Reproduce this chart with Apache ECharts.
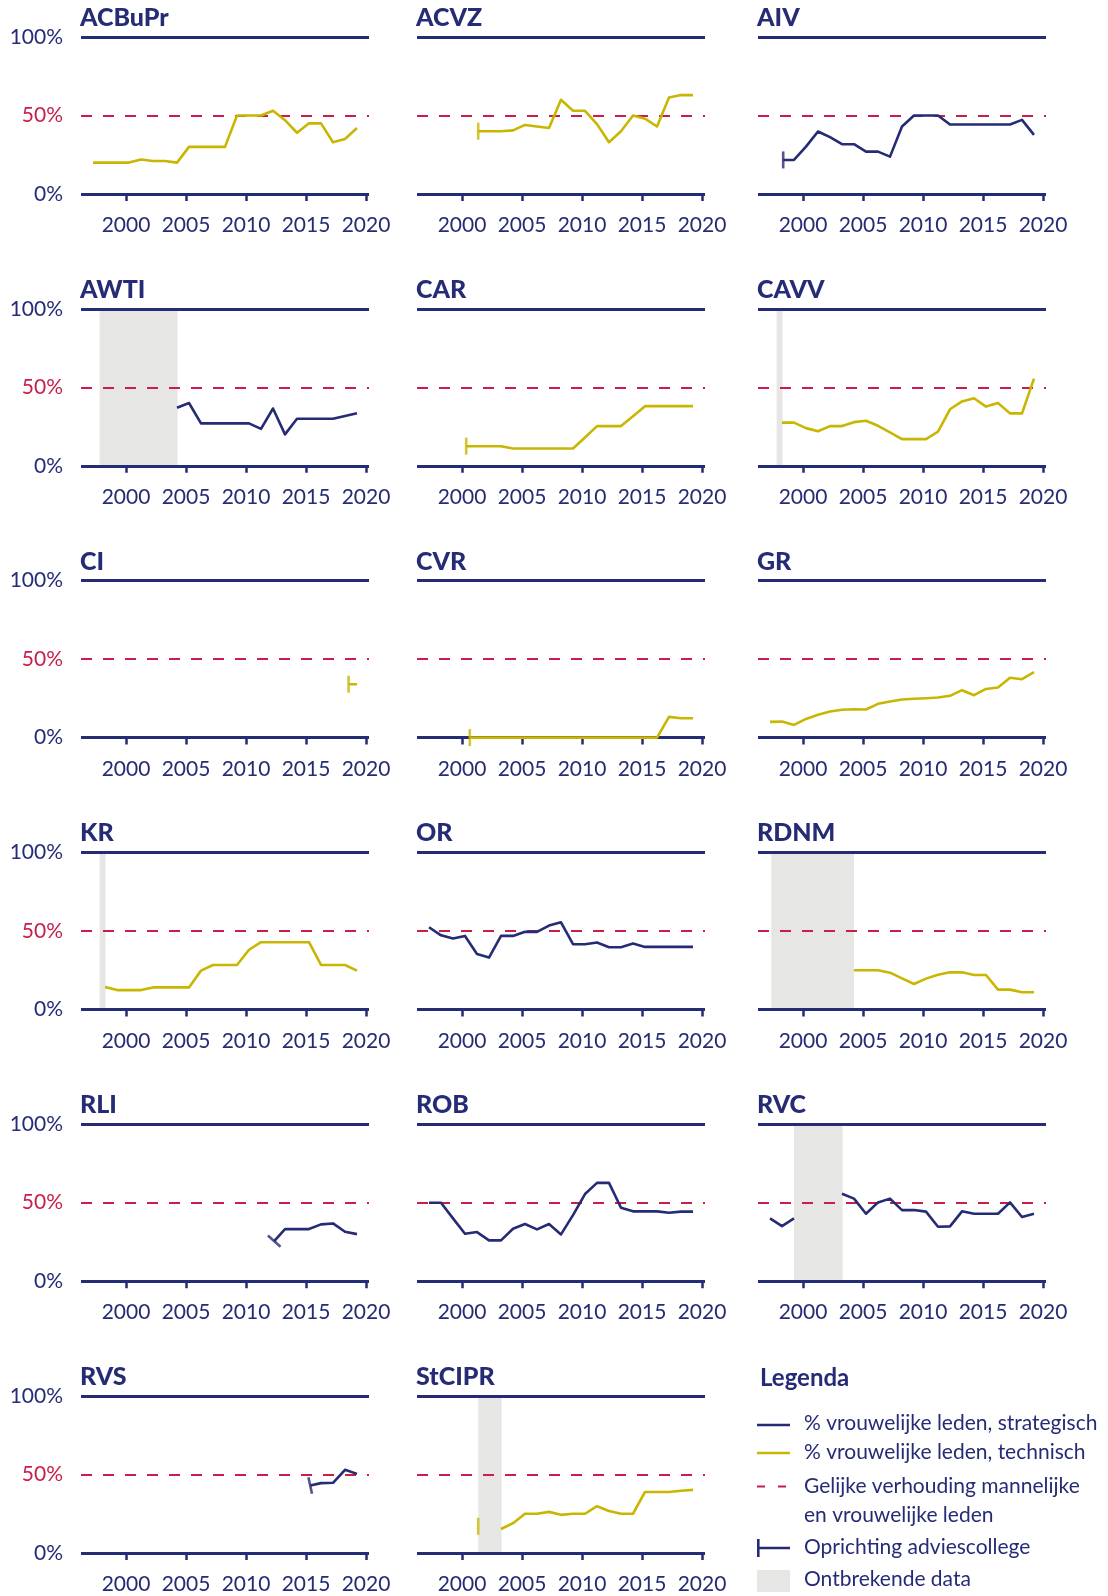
<!DOCTYPE html>
<html>
<head>
<meta charset="utf-8">
<script src="https://cdn.jsdelivr.net/npm/echarts@6/dist/echarts.min.js"></script>
<style>
  html, body { margin: 0; padding: 0; background: #fff; }
  #chart { width: 1108px; height: 1596px; }
</style>
</head>
<body>
<div id="chart"></div>
<script>
// jaartallen (1997 t/m 2019)
const years = [1997, 1998, 1999, 2000, 2001, 2002, 2003, 2004, 2005, 2006, 2007, 2008,
  2009, 2010, 2011, 2012, 2013, 2014, 2015, 2016, 2017, 2018, 2019];
const tickYears = [2000, 2005, 2010, 2015, 2020];
const pctTicks = [0, 50, 100];

// % vrouwelijke leden per adviescollege
const acbuprTech = [20, 20, 20, 20, 22, 21, 21, 20, 30, 30, 30, 30, 50, 50, 50, 53, 47, 39, 45, 45, 33, 35, 42];
const acvzTech = [null, null, null, null, null, 40, 40, 40.5, 44, 43, 42, 60, 53, 53, 44.5, 33, 40, 50, 48, 43, 61.5, 63, 63];
const aivStrat = [null, null, 21.7, 30.2, 39.8, 36.2, 31.7, 31.7, 27, 27, 23.8, 43, 50, 50, 50, 44.3, 44.3, 44.3, 44.3, 44.3, 44.3, 47.2, 37.7];
const awtiStrat = [null, null, null, null, null, null, null, 37, 40, 27, 27, 27, 27, 27, 23.5, 36.5, 20, 30, 30, 30, 30, 31.7, 33.5];
const carTech = [null, null, null, null, 12.5, 12.5, 12.5, 11, 11, 11, 11, 11, 11, 18, 25.3, 25.3, 25.3, 31.6, 38, 38, 38, 38, 38];
const cavvTech = [null, 27.5, 27.5, 24, 22, 25.3, 25.3, 27.8, 28.7, 25.5, 21.3, 17, 17, 17, 21.7, 36, 41, 43, 37.7, 40, 33.4, 33.4, 55.5];
const ciTech = [null, null, null, null, null, null, null, null, null, null, null, null, null, null, null, null, null, null, null, null, null, null, 34];
const cvrTech = [null, null, null, null, 0, 0, 0, 0, 0, 0, 0, 0, 0, 0, 0, 0, 0, 0, 0, 0, 13.2, 12.3, 12.3];
const grTech = [10, 10.2, 8.1, 11.9, 14.5, 16.6, 17.7, 18.1, 17.9, 21.5, 23, 24.3, 24.7, 25.1, 25.5, 26.6, 30.2, 27, 31, 31.9, 38.1, 37.2, 41.7];
const krTech = [null, 14.3, 12.3, 12.3, 12.3, 14, 14, 14, 14, 24.7, 28.3, 28.3, 28.3, 38, 42.8, 42.8, 42.8, 42.8, 42.8, 28.3, 28.3, 28.3, 24.7];
const orStrat = [52.3, 47.2, 45.1, 46.8, 35.3, 33, 46.8, 46.8, 49.4, 49.4, 53.4, 55.5, 41.5, 41.5, 42.6, 39.6, 39.6, 41.9, 39.8, 39.8, 39.8, 39.8, 39.8];
const rdnmTech = [null, null, null, null, null, null, null, 24.9, 24.9, 24.9, 23.4, 19.8, 16.2, 19.6, 22.1, 23.6, 23.6, 21.9, 21.9, 12.6, 12.6, 10.9, 10.9];
const rliStrat = [null, null, null, null, null, null, null, null, null, null, null, null, null, null, null, null, 33.2, 33.2, 33.2, 36.2, 36.8, 31.5, 30];
const robStrat = [50, 50, 40, 30.2, 31.3, 26, 26, 33.4, 36.4, 33, 36.4, 29.8, 42.1, 55.5, 62.6, 62.6, 46.8, 44.5, 44.5, 44.5, 43.6, 44.3, 44.3];
const rvcStrat = [40, 35.1, 40, null, null, null, 55.7, 52.6, 43, 50.2, 52.6, 45.3, 45.3, 44.3, 34.7, 34.9, 44.5, 43, 43, 43, 50.2, 40.9, 43];
const rvsStrat = [null, null, null, null, null, null, null, null, null, null, null, null, null, null, null, null, null, null, null, 44.5, 44.7, 53, 50.4];
const stciprTech = [null, null, null, null, null, null, 15.3, 19, 25, 25, 26.2, 24.3, 25, 25, 29.8, 26.8, 25, 25, 38.9, 38.9, 38.9, 39.6, 40.2];

// oprichting [jaar, %]
const acvzFounded = [2001.1, 40];
const aivFounded = [1998.1, 21.7];
const carFounded = [2000.1, 12.5];
const ciFounded = [2018.3, 34];
const cvrFounded = [2000.4, 0];
const rliFounded = [2012.1, 25.5];
const rvsFounded = [2015.1, 43];
const stciprFounded = [2001.1, 17];

// ontbrekende data [van, tot]
const awtiMissing = [1997.55, 2004.05];
const cavvMissing = [1997.55, 1998.05];
const krMissing = [1997.55, 1998.05];
const rdnmMissing = [1997.1, 2004.0];
const rvcMissing = [1999.0, 2003.05];
const stciprMissing = [2001.1, 2003.05];

const navy = '#252b74';
const yellow = '#c9b602';
const red = '#c81e4b';
const grey = '#e6e6e5';
const fontFamily = 'Lato';

const panels = [
  { name: 'ACBuPr', color: yellow, values: acbuprTech },
  { name: 'ACVZ', color: yellow, values: acvzTech, founded: acvzFounded },
  { name: 'AIV', color: navy, values: aivStrat, founded: aivFounded },
  { name: 'AWTI', color: navy, values: awtiStrat, missing: awtiMissing },
  { name: 'CAR', color: yellow, values: carTech, founded: carFounded },
  { name: 'CAVV', color: yellow, values: cavvTech, missing: cavvMissing },
  { name: 'CI', color: yellow, values: ciTech, founded: ciFounded },
  { name: 'CVR', color: yellow, values: cvrTech, founded: cvrFounded },
  { name: 'GR', color: yellow, values: grTech },
  { name: 'KR', color: yellow, values: krTech, missing: krMissing },
  { name: 'OR', color: navy, values: orStrat },
  { name: 'RDNM', color: yellow, values: rdnmTech, missing: rdnmMissing },
  { name: 'RLI', color: navy, values: rliStrat, founded: rliFounded },
  { name: 'ROB', color: navy, values: robStrat },
  { name: 'RVC', color: navy, values: rvcStrat, missing: rvcMissing },
  { name: 'RVS', color: navy, values: rvsStrat, founded: rvsFounded },
  { name: 'StCIPR', color: yellow, values: stciprTech, founded: stciprFounded, missing: stciprMissing }
];

// meetmoment ligt een kwart jaar na de jaargrens
const yearOffset = 0.25;
const colLeft = [81, 417, 758];
const plotW = 288, plotH = 157;
const xMin = 1996.25, xMax = 2020.25;
const rowTop = r => 37 + r * 271.8;

const grids = [], xAxes = [], yAxes = [], series = [], graphics = [];

panels.forEach((p, i) => {
  const r = Math.floor(i / 3), c = i % 3;
  const top = rowTop(r);
  grids.push({ left: colLeft[c], top: top, width: plotW, height: plotH });
  xAxes.push({
    gridIndex: i, type: 'value', min: xMin, max: xMax, offset: 7,
    axisLine: { show: false }, splitLine: { show: false },
    axisTick: { show: true, length: 7, customValues: tickYears, lineStyle: { color: navy, width: 2.5 } },
    axisLabel: {
      customValues: tickYears, margin: 14, color: navy, fontSize: 21, fontFamily: fontFamily,
      formatter: v => String(v)
    }
  });
  yAxes.push({
    gridIndex: i, type: 'value', min: 0, max: 100, interval: 50,
    axisLine: { show: false }, axisTick: { show: false }, splitLine: { show: false },
    axisLabel: {
      show: c === 0, customValues: pctTicks, margin: 18, fontSize: 21, fontFamily: fontFamily,
      formatter: v => v + '%',
      color: v => (Number(v) === 50 ? red : navy)
    }
  });

  const hidden = { data: [[xMin, 0], [xMax, 0]], symbol: 'none', lineStyle: { opacity: 0, width: 0 }, silent: true };
  if (p.missing) {
    series.push(Object.assign({ type: 'line', xAxisIndex: i, yAxisIndex: i, z: 0 }, hidden, {
      markArea: {
        z: 0, silent: true, itemStyle: { color: grey },
        data: [[{ xAxis: p.missing[0] + yearOffset, yAxis: 0 }, { xAxis: p.missing[1] + yearOffset, yAxis: 100 }]]
      }
    }));
  }
  series.push(Object.assign({ type: 'line', xAxisIndex: i, yAxisIndex: i, z: 1 }, hidden, {
    markLine: {
      z: 1, silent: true, symbol: 'none', label: { show: false },
      data: [
        { yAxis: 100, lineStyle: { color: navy, width: 3, type: 'solid' } },
        { yAxis: 0, lineStyle: { color: navy, width: 3, type: 'solid' } },
        { yAxis: 50, lineStyle: { color: red, width: 2, type: [11, 11] } }
      ]
    }
  }));

  let pts = years.map((y, k) => [y, p.values[k]]);
  if (p.founded) {
    pts = pts.filter(d => d[0] > p.founded[0]);
    pts.unshift(p.founded.slice());
  }
  pts = pts.map(d => [d[0] + yearOffset, d[1]]);
  series.push({
    type: 'line', xAxisIndex: i, yAxisIndex: i, z: 3, data: pts, symbol: 'none',
    clip: false, connectNulls: false, lineStyle: { color: p.color, width: 2.6, join: 'round' }
  });

  if (p.founded) {
    const f = pts[0], nxt = pts[1];
    let angle = 0;
    if (nxt && nxt[1] != null) {
      angle = Math.atan2((nxt[1] - f[1]) * plotH / 100,
        (nxt[0] - f[0]) * plotW / (xMax - xMin)) * 180 / Math.PI;
    }
    series.push({
      type: 'scatter', xAxisIndex: i, yAxisIndex: i, z: 4, data: [f],
      symbol: 'rect', symbolSize: [2.6, 17], symbolRotate: angle, clip: false,
      itemStyle: { color: p.color }, silent: true
    });
  }

  graphics.push({
    type: 'text', x: colLeft[c] - 1, y: top - 19,
    style: { text: p.name, fill: navy, font: '900 25px ' + fontFamily, verticalAlign: 'middle', textVerticalAlign: 'middle' }
  });
});

// legenda
const legendText = (text, y, bold) => ({
  type: 'text', x: bold ? 760 : 804, y: y,
  style: { text: text, fill: navy, font: (bold ? 'bold 24px ' : '21px ') + fontFamily, verticalAlign: 'middle', textVerticalAlign: 'middle' }
});
graphics.push(
  legendText('Legenda', 1378, true),
  { type: 'line', shape: { x1: 757, y1: 1425, x2: 790, y2: 1425 }, style: { stroke: navy, lineWidth: 2.6 } },
  legendText('% vrouwelijke leden, strategisch', 1423),
  { type: 'line', shape: { x1: 757, y1: 1453, x2: 790, y2: 1453 }, style: { stroke: yellow, lineWidth: 2.6 } },
  legendText('% vrouwelijke leden, technisch', 1452),
  { type: 'line', shape: { x1: 757, y1: 1486.5, x2: 790, y2: 1486.5 }, style: { stroke: red, lineWidth: 2, lineDash: [8, 13] } },
  legendText('Gelijke verhouding mannelijke', 1486),
  legendText('en vrouwelijke leden', 1515),
  { type: 'line', shape: { x1: 757, y1: 1548, x2: 790, y2: 1548 }, style: { stroke: navy, lineWidth: 2.6 } },
  { type: 'line', shape: { x1: 758.3, y1: 1539, x2: 758.3, y2: 1557 }, style: { stroke: navy, lineWidth: 2.6 } },
  legendText('Oprichting adviescollege', 1547),
  { type: 'rect', shape: { x: 757, y: 1570, width: 33, height: 22 }, style: { fill: grey } },
  legendText('Ontbrekende data', 1579)
);

const chart = echarts.init(document.getElementById('chart'));
chart.setOption({
  animation: false,
  backgroundColor: '#fff',
  grid: grids,
  xAxis: xAxes,
  yAxis: yAxes,
  series: series,
  graphic: { elements: graphics }
});
</script>
</body>
</html>
